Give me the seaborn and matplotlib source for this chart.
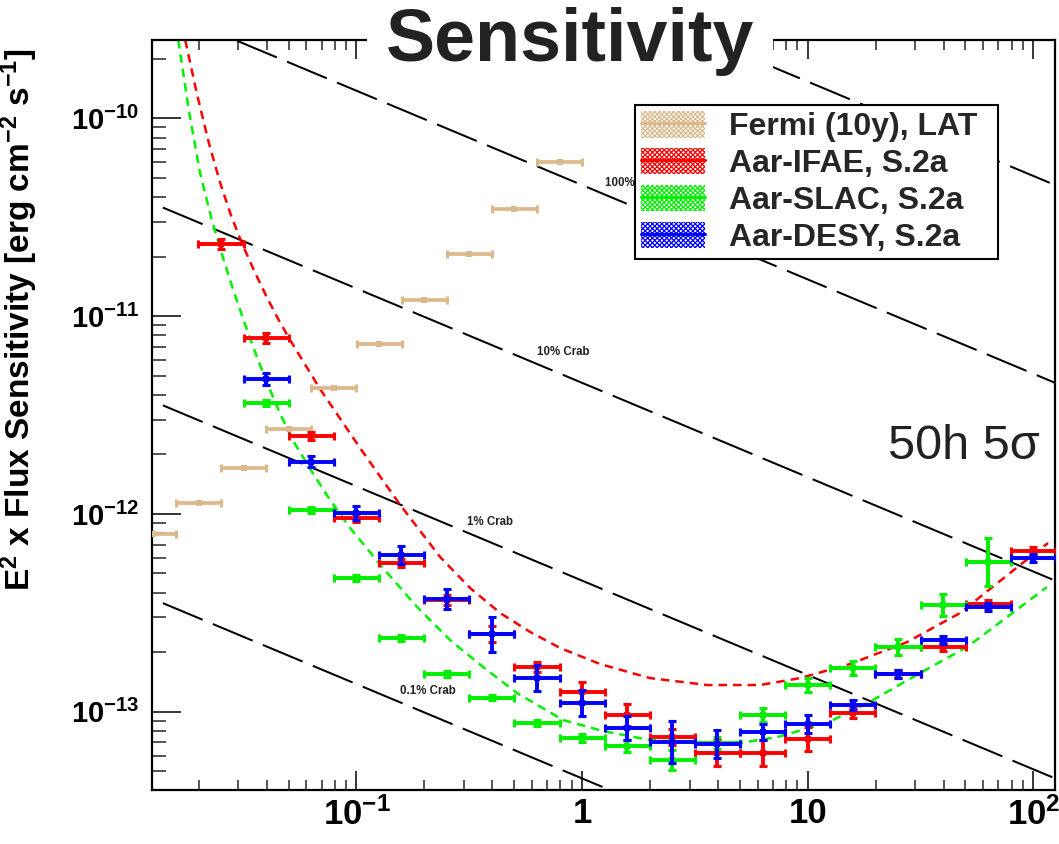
import numpy as np
import matplotlib
matplotlib.use("Agg")
import matplotlib.pyplot as plt
import seaborn as sns
from matplotlib.patches import Patch
from matplotlib.lines import Line2D
from matplotlib.legend_handler import HandlerTuple
from matplotlib.ticker import FixedLocator, FixedFormatter, NullFormatter, LogLocator

# ---------------- data ----------------
# Aar bin centres (TeV), 0.2-decade bins
aar_energy = [0.0251, 0.0398, 0.0631, 0.1, 0.158, 0.251, 0.398, 0.631, 1.0, 1.585,
              2.512, 3.981, 6.31, 10.0, 15.85, 25.12, 39.81, 63.1, 100.0]
bin_halfwidth_dex = 0.1

ifae_flux = [2.32e-11, 7.73e-12, 2.48e-12, 9.51e-13, 5.67e-13, 3.67e-13, 2.47e-13, 1.68e-13,
             1.26e-13, 9.62e-14, 7.47e-14, 6.16e-14, 6.20e-14, 7.25e-14, 9.90e-14, 1.55e-13,
             2.12e-13, 3.50e-13, 6.52e-13]
ifae_err_dex = [0.025, 0.025, 0.02, 0.02, 0.02, 0.025, 0.04, 0.025, 0.05, 0.055, 0.04, 0.065,
                0.065, 0.06, 0.025, 0.02, 0.02, 0.02, 0.02]

desy_energy = aar_energy[1:]
desy_flux = [4.82e-12, 1.84e-12, 1.01e-12, 6.19e-13, 3.70e-13, 2.46e-13, 1.48e-13, 1.11e-13,
             8.30e-14, 7.05e-14, 6.84e-14, 7.87e-14, 8.67e-14, 1.08e-13, 1.55e-13, 2.31e-13,
             3.40e-13, 5.97e-13]
desy_err_dex = [0.03, 0.03, 0.035, 0.045, 0.05, 0.09, 0.065, 0.065, 0.06, 0.105, 0.07, 0.04,
                0.045, 0.025, 0.02, 0.02, 0.02, 0.02]

slac_energy = aar_energy[1:-1]
slac_flux = [3.65e-12, 1.05e-12, 4.72e-13, 2.35e-13, 1.55e-13, 1.18e-13, 8.73e-14, 7.34e-14,
             6.74e-14, 5.70e-14, 6.97e-14, 9.62e-14, 1.36e-13, 1.66e-13, 2.13e-13, 3.46e-13,
             5.73e-13]
slac_err_dex = [0.015, 0.015, 0.015, 0.015, 0.015, 0.015, 0.015, 0.02, 0.03, 0.05, 0.03, 0.035,
                0.035, 0.035, 0.04, 0.055, 0.12]

fermi_energy = [0.0126, 0.02, 0.0316, 0.0501, 0.0794, 0.126, 0.2, 0.316, 0.501, 0.794]
fermi_flux = [7.91e-13, 1.13e-12, 1.70e-12, 2.68e-12, 4.31e-12, 7.19e-12, 1.21e-11, 2.06e-11,
              3.49e-11, 6.04e-11]

# dashed fit curves: log10(E/TeV) and log10(flux)
ifae_curve_logE = [-1.759, -1.706, -1.653, -1.604, -1.555, -1.506, -1.453, -1.400, -1.347,
                   -1.294, -1.161, -0.984, -0.806, -0.629, -0.496, -0.363, -0.230, -0.097,
                   0.080, 0.301, 0.554, 0.789, 0.966, 1.187, 1.440, 1.675, 1.941, 2.065]
ifae_curve_logF = [-9.604, -9.882, -10.130, -10.327, -10.494, -10.636, -10.772, -10.898,
                   -11.015, -11.121, -11.369, -11.667, -11.955, -12.218, -12.375, -12.501,
                   -12.597, -12.678, -12.759, -12.830, -12.865, -12.865, -12.830, -12.759,
                   -12.648, -12.501, -12.258, -12.147]
slac_curve_logE = [-1.790, -1.741, -1.693, -1.639, -1.591, -1.546, -1.502, -1.458, -1.405,
                   -1.338, -1.272, -1.205, -1.117, -1.028, -0.882, -0.731, -0.585, -0.439,
                   -0.288, -0.084, 0.093, 0.301, 0.523, 0.700, 0.864, 1.086, 1.289, 1.498,
                   1.706, 2.060]
slac_curve_logF = [-9.604, -9.973, -10.277, -10.524, -10.706, -10.868, -11.015, -11.156,
                   -11.313, -11.495, -11.647, -11.773, -11.930, -12.071, -12.274, -12.471,
                   -12.638, -12.774, -12.906, -13.042, -13.098, -13.143, -13.158, -13.158,
                   -13.128, -13.057, -12.941, -12.804, -12.673, -12.370]

# Crab reference lines: E^2 F = frac * norm * E^-slope
crab_norm = 4.6e-11
crab_slope = 0.477
crab_fracs = [10.0, 1.0, 0.1, 0.01, 0.001]
crab_labels = ["100% Crab", "10% Crab", "1% Crab", "0.1% Crab"]
crab_label_e = [1.264, 0.630, 0.3084, 0.1562]
crab_label_f = [4.71e-11, 6.56e-12, 9.14e-13, 1.28e-13]

legend_labels = ["Fermi (10y), LAT", "Aar-IFAE, S.2a", "Aar-SLAC, S.2a", "Aar-DESY, S.2a"]
x_ticks = [0.1, 1, 10, 100]
x_ticklabels = [r"$10^{-1}$", "1", "10", r"$10^{2}$"]
y_ticks = [1e-13, 1e-12, 1e-11, 1e-10]
y_ticklabels = [r"$10^{-13}$", r"$10^{-12}$", r"$10^{-11}$", r"$10^{-10}$"]

# ---------------- style ----------------
sns.set_theme(style="ticks")
plt.rcParams["font.family"] = ["Liberation Sans", "DejaVu Sans"]
plt.rcParams["mathtext.fontset"] = "custom"
plt.rcParams["mathtext.rm"] = "Liberation Sans:bold"
plt.rcParams["mathtext.bf"] = "Liberation Sans:bold"
plt.rcParams["mathtext.it"] = "Liberation Sans:bold"
plt.rcParams["mathtext.sf"] = "Liberation Sans:bold"
plt.rcParams["hatch.linewidth"] = 0.9

C_FERMI = "#dcb98c"
C_IFAE = "#ff0000"
C_SLAC = "#00f000"
C_DESY = "#0000ff"

fig = plt.figure(figsize=(10.59, 8.44), dpi=100)
fig.patch.set_facecolor("white")
ax = fig.add_axes([152 / 1059, 1 - 790 / 844, (1055 - 152) / 1059, 750 / 844])
ax.set_facecolor("white")
ax.set_xscale("log")
ax.set_yscale("log")
xmin, xmax = 0.01241, 124.7
ymin, ymax = 4.02e-14, 2.49e-10
ax.set_xlim(xmin, xmax)
ax.set_ylim(ymin, ymax)

# crab lines
crab_e = np.array([0.005, 300.0])
for frac in crab_fracs:
    sns.lineplot(x=crab_e, y=frac * crab_norm * crab_e ** (-crab_slope), ax=ax, color="black",
                 lw=1.45, linestyle=(0, (21.4, 5.5)), zorder=1, legend=False)
for lab, xe, yf in zip(crab_labels, crab_label_e, crab_label_f):
    ax.text(xe, yf, lab, fontsize=8.3, fontweight="bold", color="#222222",
            ha="left", va="center", zorder=2)

# fit curves
sns.lineplot(x=10 ** np.array(ifae_curve_logE), y=10 ** np.array(ifae_curve_logF), ax=ax,
             color=C_IFAE, lw=1.8, linestyle=(0, (3.4, 2.4)), zorder=2.5, legend=False, sort=False)
sns.lineplot(x=10 ** np.array(slac_curve_logE), y=10 ** np.array(slac_curve_logF), ax=ax,
             color=C_SLAC, lw=1.8, linestyle=(0, (3.4, 2.4)), zorder=2.5, legend=False, sort=False)


def draw(E, y, err, color, lw, ms, z):
    E = np.asarray(E, float)
    y = np.asarray(y, float)
    xlo = E - E / 10 ** bin_halfwidth_dex
    xhi = E * 10 ** bin_halfwidth_dex - E
    yerr = None
    if err is not None:
        e = np.asarray(err, float)
        yerr = [y - y / 10 ** e, y * 10 ** e - y]
    ax.errorbar(E, y, xerr=[xlo, xhi], yerr=yerr, fmt="none", ecolor=color, elinewidth=lw,
                capsize=3, capthick=lw * 0.8, zorder=z)
    sns.scatterplot(x=E, y=y, marker="s", s=ms, color=color, edgecolor=color, linewidth=0,
                    ax=ax, zorder=z + 0.1, legend=False)


draw(fermi_energy, fermi_flux, None, C_FERMI, 2.7, 14, 3)
draw(aar_energy, ifae_flux, ifae_err_dex, C_IFAE, 2.8, 22, 4)
draw(slac_energy, slac_flux, slac_err_dex, C_SLAC, 2.8, 22, 5)
draw(desy_energy, desy_flux, desy_err_dex, C_DESY, 2.8, 22, 6)

# axes styling
for s in ax.spines.values():
    s.set_visible(True)
    s.set_linewidth(1.6)
    s.set_color("black")
ax.xaxis.set_major_locator(FixedLocator(x_ticks))
ax.xaxis.set_major_formatter(FixedFormatter(x_ticklabels))
ax.yaxis.set_major_locator(FixedLocator(y_ticks))
ax.yaxis.set_major_formatter(FixedFormatter(y_ticklabels))
ax.xaxis.set_minor_locator(LogLocator(base=10, subs=np.arange(2, 10), numticks=20))
ax.yaxis.set_minor_locator(LogLocator(base=10, subs=np.arange(2, 10), numticks=20))
ax.xaxis.set_minor_formatter(NullFormatter())
ax.yaxis.set_minor_formatter(NullFormatter())
ax.tick_params(axis="x", which="major", direction="in", length=14, width=1.1, top=True,
               bottom=True, labelsize=25, pad=5, colors="black")
ax.tick_params(axis="x", which="minor", direction="in", length=7, width=1.1, top=True,
               bottom=True)
ax.tick_params(axis="y", which="major", direction="in", length=21, width=1.1, left=True,
               right=False, labelsize=21, pad=9, colors="black")
ax.tick_params(axis="y", which="minor", direction="in", length=10, width=1.1, left=True,
               right=False)
for lbl in ax.get_xticklabels() + ax.get_yticklabels():
    lbl.set_fontfamily("Liberation Sans")
    lbl.set_fontweight("bold")
ax.grid(False)

ax.set_ylabel(r"E$^{2}$ x Flux Sensitivity [erg cm$^{-2}$ s$^{-1}$]", fontsize=24,
              fontweight="bold", color="black")
ax.yaxis.set_label_coords(-0.124, 0.627)

# legend
handles = []
for c in [C_FERMI, C_IFAE, C_SLAC, C_DESY]:
    p = Patch(facecolor="white", edgecolor=c, hatch="xxxxxxx", linewidth=0)
    l = Line2D([], [], color=c, lw=2.2)
    handles.append((p, l))
leg = ax.legend(handles, legend_labels, handler_map={tuple: HandlerTuple(ndivide=1)},
                loc="upper left", bbox_to_anchor=(0.535, 0.688, 0.402, 0.2253), mode="expand",
                prop=dict(family="Liberation Sans", weight="bold", size=23),
                handlelength=2.0, handleheight=0.88, handletextpad=0.75, labelspacing=0.18,
                borderpad=0.2, borderaxespad=0, fancybox=False, framealpha=1,
                edgecolor="black")
leg.get_frame().set_linewidth(1.5)
leg.set_zorder(10)

# title and annotation
fig.text(570 / 1059, 1 - 61 / 844, "Sensitivity", ha="center", va="baseline", fontsize=53,
         fontweight="bold", color="#222222", family="Liberation Sans",
         bbox=dict(boxstyle="square,pad=0.25", fc="white", ec="none"))
fig.text(888 / 1059, 1 - 459 / 844, "50h 5σ", ha="left", va="baseline", fontsize=35,
         color="#222222", family=["Liberation Sans", "DejaVu Sans"])

fig.savefig("out.png", dpi=100)
